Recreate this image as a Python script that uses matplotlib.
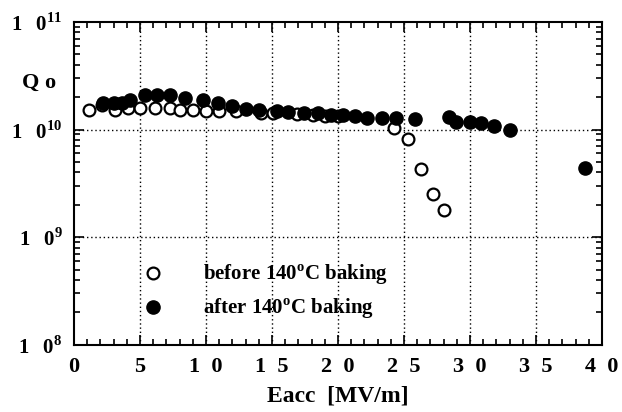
import matplotlib
matplotlib.use("Agg")
import matplotlib.pyplot as plt
from matplotlib.ticker import FixedLocator, LogLocator, NullFormatter

plt.rcParams['font.family'] = ['Liberation Serif', 'DejaVu Serif']
plt.rcParams['font.weight'] = 'bold'
plt.rcParams['mathtext.fontset'] = 'custom'
plt.rcParams['mathtext.rm'] = 'Liberation Serif:bold'
plt.rcParams['mathtext.bf'] = 'Liberation Serif:bold'

# before 140C baking (open circles)
e_before = [1.1, 2.1, 3.1, 4.1, 5.0, 6.1, 7.3, 8.0, 9.0, 10.0, 11.0, 12.3,
            14.2, 15.1, 16.9, 18.1, 19.0, 20.0, 24.2, 25.3, 26.3, 27.2, 28.05]
q_before = [1.53e10, 1.70e10, 1.53e10, 1.60e10, 1.58e10, 1.58e10, 1.58e10, 1.53e10,
            1.53e10, 1.50e10, 1.48e10, 1.48e10, 1.43e10, 1.43e10, 1.38e10, 1.36e10,
            1.34e10, 1.34e10, 1.04e10, 8.1e9, 4.3e9, 2.5e9, 1.8e9]

# after 140C baking (filled circles)
e_after = [2.2, 3.0, 3.6, 4.25, 5.4, 6.3, 7.3, 8.4, 9.8, 10.9, 12.0, 13.0, 14.0,
           15.4, 16.2, 17.4, 18.5, 19.5, 20.4, 21.3, 22.2, 23.3, 24.4, 25.8,
           28.4, 28.9, 30.0, 30.8, 31.8, 33.0, 38.7]
q_after = [1.76e10, 1.76e10, 1.76e10, 1.88e10, 2.09e10, 2.09e10, 2.09e10, 1.98e10,
           1.86e10, 1.76e10, 1.64e10, 1.56e10, 1.53e10, 1.48e10, 1.46e10, 1.41e10,
           1.41e10, 1.36e10, 1.36e10, 1.33e10, 1.29e10, 1.27e10, 1.27e10, 1.26e10,
           1.30e10, 1.18e10, 1.18e10, 1.14e10, 1.08e10, 1.00e10, 4.4e9]

x_ticks = [0, 5, 10, 15, 20, 25, 30, 35, 40]
x_labels = ['0', '5', '1  0', '1  5', '2  0', '2  5', '3  0', '3  5', '4  0']
y_ticks = [1e8, 1e9, 1e10, 1e11]
y_labels = [r'$1\ \ 0^{8}$', r'$1\ \ 0^{9}$', r'$1\ \ 0^{10}$', r'$1\ \ 0^{11}$']

fig = plt.figure(figsize=(6.22, 4.12), dpi=100)
ax = fig.add_axes([0.119, 0.163, 0.849, 0.784])

ax.plot(e_before, q_before, 'o', mfc='white', mec='black', mew=1.6, ms=8.5,
        label=r'before 140$^{\mathrm{o}}$C baking', zorder=3)
ax.plot(e_after, q_after, 'o', mfc='black', mec='black', ms=9.5,
        label=r'after 140$^{\mathrm{o}}$C baking', zorder=4)

ax.set_yscale('log')
ax.set_xlim(0, 40)
ax.set_ylim(1e8, 1e11)

ax.set_xticks(x_ticks)
ax.set_xticklabels(x_labels, fontsize=16, fontweight='bold')
ax.xaxis.set_minor_locator(FixedLocator(list(range(0, 41))))
ax.set_yticks(y_ticks)
ax.set_yticklabels(y_labels, fontsize=15)
ax.yaxis.set_minor_locator(LogLocator(base=10, subs=range(2, 10)))
ax.yaxis.set_minor_formatter(NullFormatter())

ax.tick_params(which='both', direction='in', top=True, right=True, width=1.2)
ax.tick_params(which='major', length=7)
ax.tick_params(which='minor', length=4)
ax.tick_params(axis='x', pad=9)
ax.tick_params(axis='y', pad=8)
for s in ax.spines.values():
    s.set_linewidth(1.5)

for xv in x_ticks[1:-1]:
    ax.axvline(xv, color='black', ls=(0, (1, 2)), lw=1.0, zorder=1)
for yv in y_ticks[1:-1]:
    ax.axhline(yv, color='black', ls=(0, (1, 2)), lw=1.0, zorder=1)

ax.set_xlabel('Eacc  [MV/m]', fontsize=17, fontweight='bold')
ax.xaxis.set_label_coords(0.5, -0.125)
fig.text(0.035, 0.80, 'Q o', fontsize=16, fontweight='bold', ha='left', va='center')

ax.legend(loc='lower left', bbox_to_anchor=(0.075, 0.015), frameon=False,
          fontsize=15, handletextpad=1.4, labelspacing=0.45, markerscale=1.0)

fig.savefig('out.png', dpi=100)
